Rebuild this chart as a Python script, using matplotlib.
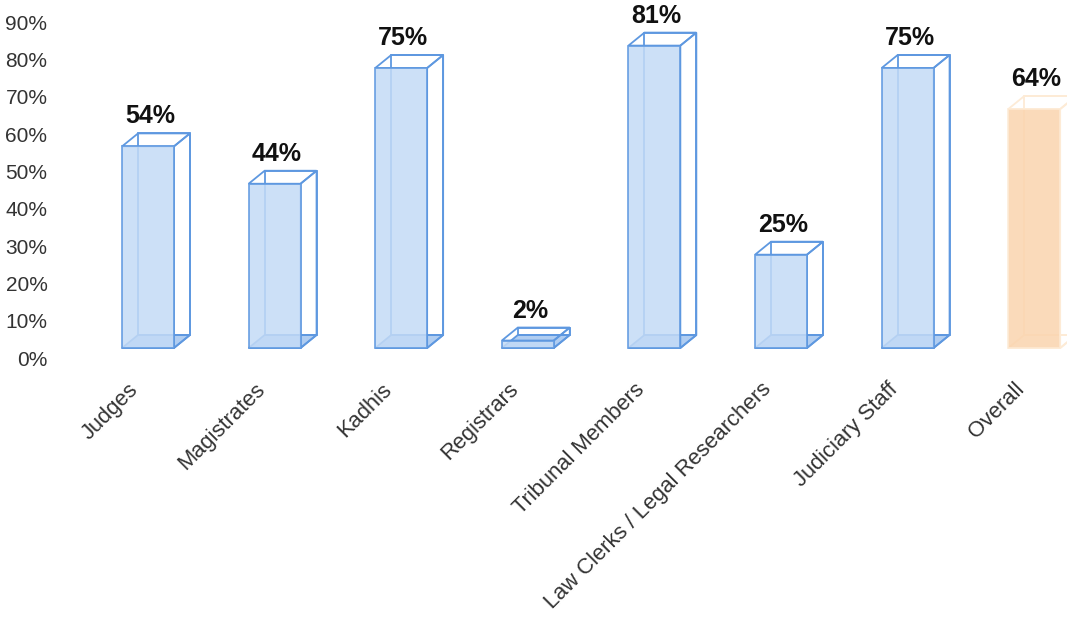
import matplotlib
matplotlib.use('Agg')
import matplotlib.pyplot as plt
from matplotlib.patches import Polygon
from matplotlib.transforms import ScaledTranslation
import numpy as np

# Data
categories = ['Judges', 'Magistrates', 'Kadhis', 'Registrars', 'Tribunal Members',
              'Law Clerks / Legal Researchers', 'Judiciary Staff', 'Overall']
values = [0.54, 0.44, 0.75, 0.02, 0.81, 0.25, 0.75, 0.64]
labels = ['54%', '44%', '75%', '2%', '81%', '25%', '75%', '64%']
yticks = [0, 0.1, 0.2, 0.3, 0.4, 0.5, 0.6, 0.7, 0.8, 0.9]
ytick_labels = ['0%', '10%', '20%', '30%', '40%', '50%', '60%', '70%', '80%', '90%']

plt.rcParams['font.family'] = ['Liberation Sans', 'DejaVu Sans']

fig = plt.figure(figsize=(10.67, 6.34), dpi=100)
W, H = 1067, 634
ax = fig.add_axes([60 / W, 1 - 358 / H, 1 - 60 / W, (358 - 22) / H])
ax.set_xlim(-0.695, 7.259)
ax.set_ylim(0, 0.9)

# pixel -> data unit conversions for the fake 3D depth
px_x = (7.259 + 0.695) / (W - 60)
px_y = 0.9 / (358 - 22)
floor = 10 * px_y
dx, dy = 16 * px_x, 13 * px_y
w = 0.41

blue_edge = '#5e98e0'
blue_fill = '#c4dbf6'
blue_floor = '#b0cdf1'
orange_edge = '#fdebd6'
orange_fill = '#fad4ae'

x = np.arange(len(categories))
for i, v in enumerate(values):
    overall = categories[i] == 'Overall'
    ec = orange_edge if overall else blue_edge
    fc = orange_fill if overall else blue_fill
    fl = orange_fill if overall else blue_floor
    x0, x1 = x[i] - w / 2, x[i] + w / 2
    b, t = floor, floor + v
    # floor face
    ax.add_patch(Polygon([(x0, b), (x1, b), (x1 + dx, b + dy), (x0 + dx, b + dy)],
                         closed=True, facecolor=fl if not overall else 'none',
                         edgecolor=ec, lw=1.3, zorder=2))
    # back face outline
    ax.add_patch(Polygon([(x0 + dx, b + dy), (x1 + dx, b + dy), (x1 + dx, t + dy), (x0 + dx, t + dy)],
                         closed=True, fill=False, edgecolor=ec, lw=1.3, zorder=2))
    # top and side faces
    ax.add_patch(Polygon([(x0, t), (x1, t), (x1 + dx, t + dy), (x0 + dx, t + dy)],
                         closed=True, fill=False, edgecolor=ec, lw=1.3, zorder=3))
    ax.add_patch(Polygon([(x1, b), (x1 + dx, b + dy), (x1 + dx, t + dy), (x1, t)],
                         closed=True, fill=False, edgecolor=ec, lw=1.3, zorder=3))
    # front face
    ax.add_patch(Polygon([(x0, b), (x1, b), (x1, t), (x0, t)],
                         closed=True, facecolor=fc, edgecolor=ec, lw=1.3, alpha=0.85, zorder=4))
    ax.text(x[i] + 2 * px_x, t + dy + 5 * px_y, labels[i], ha='center', va='bottom',
            fontsize=18, fontweight='bold', color='#111111', zorder=5)

ax.set_yticks(yticks)
ax.set_yticklabels(ytick_labels, fontsize=15, color='#333333')
ax.set_xticks(x)
ax.tick_params(axis='both', length=0)
ax.tick_params(axis='y', pad=9)
ax.tick_params(axis='x', pad=15)
ax.set_xticklabels(categories, rotation=45, ha='right', rotation_mode='anchor',
                   fontsize=15.8, color='#333333')
# nudge the rotated labels left, like the original
shift = ScaledTranslation(-20 / 100, 0, fig.dpi_scale_trans)
for lab in ax.get_xticklabels():
    lab.set_transform(lab.get_transform() + shift)
for s in ax.spines.values():
    s.set_visible(False)

fig.savefig('out.png', dpi=100)
